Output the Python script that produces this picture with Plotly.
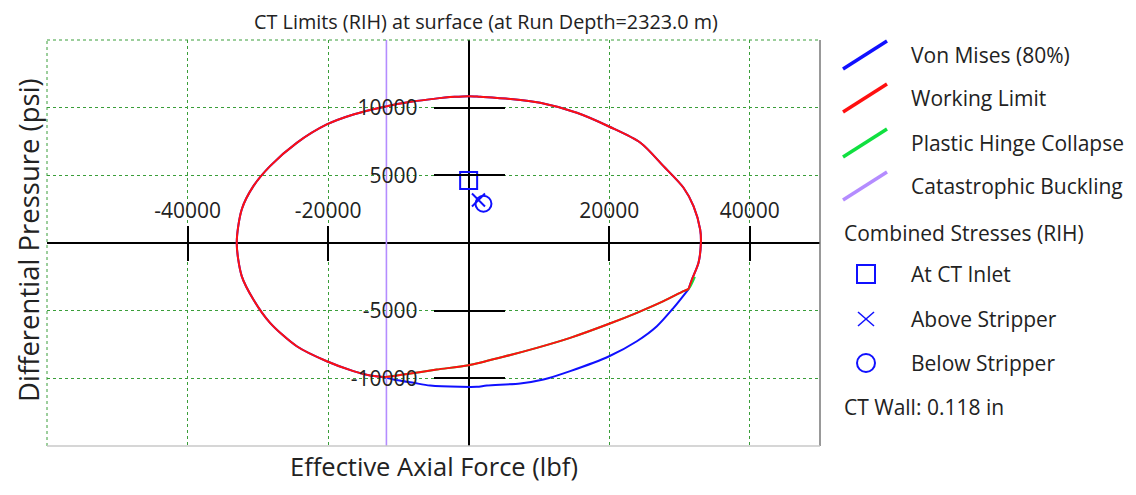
import plotly.graph_objects as go

# ---------------- data ----------------
# Shared Von Mises / Working-Limit arc: from lower-left join, up the left side,
# over the top and down the right side to the lower-right join (lbf, psi)
arc_x = [-12500, -14020, -16400, -20190, -24460, -28260, -30630, -32290, -33000, -32290, -30630, -28260,
         -24460, -20190, -16400, -11640, -8000, -5000, -2000, 0, 1640, 5910, 10180, 15400, 20040, 24450,
         27730, 30580, 32000, 32950, 33050, 32710, 31770, 31300]
arc_y = [-9880, -9790, -9470, -8740, -7630, -5900, -4180, -2450, 0, 2480, 4200, 5680,
         7400, 8760, 9500, 10110, 10450, 10650, 10800, 10850, 10800, 10640, 10360, 9620, 8590, 7410,
         5680, 4080, 2720, 1000, 0, -1460, -2700, -3400]

# Von Mises lower branch (from right join back to the left join)
vm_low_x = [31300, 29160, 26790, 23940, 20000, 14450, 10650, 7330, 2590, 1170, -1210, -5480, -7850,
            -10700, -12500]
vm_low_y = [-3400, -4790, -6150, -7260, -8370, -9470, -10090, -10380, -10530, -10630, -10630, -10530,
            -10330, -10080, -9880]

# Collapse line (Working limit lower branch)
wl_low_x = [31300, 30580, 27730, 23940, 20000, 14450, 9700, 4950, 0, -4530, -9280, -11640, -12500]
wl_low_y = [-3400, -3560, -4300, -5160, -5970, -7010, -7750, -8410, -9030, -9350, -9720, -9890, -9880]

# Plastic hinge collapse (mostly hidden under working limit)
phc_x = [32200, 31300, 30580, 27730, 23940, 20000, 14450, 9700, 4950, 0, -4530, -9280, -11640]
phc_y = [-2500, -3400, -3560, -4300, -5160, -5970, -7010, -7750, -8410, -9030, -9350, -9720, -9890]

buckling_force = -11700

# Combined stresses (RIH)
inlet_x, inlet_y = [0], [4620]
above_x, above_y = [1400], [3180]
below_x, below_y = [2110], [2900]

x_range = [-60000, 50000]
y_range = [-15000, 15000]
x_grid = [-60000, -40000, -20000, 20000, 40000]
y_grid = [-15000, -10000, -5000, 5000, 10000, 15000]
x_ticks = [-40000, -20000, 20000, 40000]
y_ticks = [-10000, -5000, 5000, 10000]

legend_lines = ["Von Mises (80%)", "Working Limit", "Plastic Hinge Collapse", "Catastrophic Buckling"]
legend_markers = ["At CT Inlet", "Above Stripper", "Below Stripper"]

# ---------------- styling ----------------
BLUE = "#1010ff"
RED = "#ff1010"
GREEN = "#10e040"
PURPLE = "#b48cff"
GRID = "#3a9e3a"
FONT = "Open Sans"
TXT = "#222222"
FS = 20
TICKFS = 21
LFS = 21

# page has an 8px body margin; work in page pixel coordinates and convert
OFF = 8
W, H = 1136 - OFF, 495 - OFF
PL, PR, PT, PB = 47, 820, 40, 446          # plot area in page pixels
L, T = PL - OFF, PT - OFF
R, B = W - (PR - OFF), H - (PB - OFF)
PW, PH = PR - PL, PB - PT

def pxx(p):
    return (p - PL) / PW

def pxy(p):
    return (PB - p) / PH

fig = go.Figure()

fig.add_trace(go.Scatter(x=arc_x + vm_low_x, y=arc_y + vm_low_y, mode="lines",
                         line=dict(color=BLUE, width=2, shape="spline", smoothing=0.8),
                         name=legend_lines[0], showlegend=False))
fig.add_trace(go.Scatter(x=phc_x, y=phc_y, mode="lines",
                         line=dict(color=GREEN, width=2, shape="spline", smoothing=0.8),
                         name=legend_lines[2], showlegend=False))
fig.add_trace(go.Scatter(x=[buckling_force, buckling_force], y=y_range, mode="lines",
                         line=dict(color=PURPLE, width=1.6), name=legend_lines[3], showlegend=False))
fig.add_trace(go.Scatter(x=arc_x, y=arc_y, mode="lines",
                         line=dict(color=RED, width=2, shape="spline", smoothing=0.8),
                         name=legend_lines[1], showlegend=False))
fig.add_trace(go.Scatter(x=wl_low_x, y=wl_low_y, mode="lines",
                         line=dict(color=RED, width=2, shape="spline", smoothing=0.8),
                         name=legend_lines[1], showlegend=False))

fig.add_trace(go.Scatter(x=inlet_x, y=inlet_y, mode="markers", name=legend_markers[0], showlegend=False,
                         marker=dict(symbol="square-open", size=17, color=BLUE, line=dict(width=2, color=BLUE))))
fig.add_trace(go.Scatter(x=above_x, y=above_y, mode="markers", name=legend_markers[1], showlegend=False,
                         marker=dict(symbol="x-thin-open", size=13, color=BLUE, line=dict(width=2, color=BLUE))))
fig.add_trace(go.Scatter(x=below_x, y=below_y, mode="markers", name=legend_markers[2], showlegend=False,
                         marker=dict(symbol="circle-open", size=16, color=BLUE, line=dict(width=2, color=BLUE))))

# dummy traces for tick-only overlay axes
for xa, ya in [("x2", "y2"), ("x3", "y3")]:
    fig.add_trace(go.Scatter(x=[None], y=[None], xaxis=xa, yaxis=ya, showlegend=False, hoverinfo="skip"))

ycross = (0 - y_range[0]) / (y_range[1] - y_range[0])
xcross = (0 - x_range[0]) / (x_range[1] - x_range[0])
tickfont = dict(family=FONT, size=TICKFS, color=TXT)

fig.update_layout(
    width=W, height=H,
    margin=dict(l=L, r=R, t=T, b=B, autoexpand=False),
    paper_bgcolor="white", plot_bgcolor="white",
    showlegend=False,
    font=dict(family=FONT, size=FS, color=TXT),
    title=dict(text="CT Limits (RIH) at surface (at Run Depth=2323.0 m)", x=pxx(486), xref="paper",
               xanchor="center", y=1 - (22 - OFF) / H, yanchor="middle",
               font=dict(family=FONT, size=19.8, color=TXT), automargin=False),
    xaxis=dict(range=x_range, tickvals=x_grid, showticklabels=False, ticks="", showgrid=True,
               gridcolor=GRID, griddash="dot", gridwidth=1, zeroline=True, zerolinecolor="black",
               zerolinewidth=2, showline=False, automargin=False),
    yaxis=dict(range=y_range, tickvals=y_grid, showticklabels=False, ticks="", showgrid=True,
               gridcolor=GRID, griddash="dot", gridwidth=1, zeroline=True, zerolinecolor="black",
               zerolinewidth=2, showline=False, automargin=False),
    xaxis2=dict(range=x_range, overlaying="x", anchor="free", position=ycross, side="top",
                tickvals=x_ticks, ticktext=[str(v) for v in x_ticks], ticks="outside", ticklen=17,
                tickwidth=2, tickcolor="black", showgrid=False, zeroline=False, showline=False,
                tickfont=tickfont, automargin=False),
    yaxis2=dict(range=y_range, overlaying="y", anchor="free", position=xcross, side="left",
                tickvals=y_ticks, ticktext=[str(v) for v in y_ticks], ticks="outside", ticklen=35,
                tickwidth=2, tickcolor="black", showgrid=False, zeroline=False, showline=False,
                tickfont=tickfont, ticklabelstandoff=12, automargin=False),
    xaxis3=dict(range=x_range, overlaying="x", anchor="free", position=ycross, side="bottom",
                tickvals=x_ticks, showticklabels=False, ticks="outside", ticklen=17,
                tickwidth=2, tickcolor="black", showgrid=False, zeroline=False, showline=False,
                automargin=False),
    yaxis3=dict(range=y_range, overlaying="y", anchor="free", position=xcross, side="right",
                tickvals=y_ticks, showticklabels=False, ticks="outside", ticklen=35,
                tickwidth=2, tickcolor="black", showgrid=False, zeroline=False, showline=False,
                automargin=False),
)

shapes = []
# plot borders
shapes.append(dict(type="line", xref="paper", yref="paper", x0=0, x1=0, y0=0, y1=1,
                   line=dict(color=GRID, width=1, dash="dot")))
shapes.append(dict(type="line", xref="paper", yref="paper", x0=0, x1=1, y0=1, y1=1,
                   line=dict(color=GRID, width=1, dash="dot")))
shapes.append(dict(type="line", xref="paper", yref="paper", x0=1, x1=1, y0=0, y1=1,
                   line=dict(color="#777777", width=1.5)))
shapes.append(dict(type="line", xref="paper", yref="paper", x0=0, x1=1, y0=0, y1=0,
                   line=dict(color="#c8c8c8", width=1.5)))

annotations = []
# axis titles
annotations.append(dict(text="Effective Axial Force (lbf)", xref="paper", yref="paper", x=pxx(433.5), y=pxy(466),
                        xanchor="center", yanchor="middle", showarrow=False,
                        font=dict(family=FONT, size=25.5, color=TXT)))
annotations.append(dict(text="Differential Pressure (psi)", xref="paper", yref="paper", x=pxx(29), y=pxy(240),
                        xanchor="center", yanchor="middle", textangle=-90, showarrow=False,
                        font=dict(family=FONT, size=27.5, color=TXT)))

# legend (custom)
line_cols = [BLUE, RED, GREEN, PURPLE]
line_ys = [55, 98, 143, 186]
for name, col, yc in zip(legend_lines, line_cols, line_ys):
    shapes.append(dict(type="line", xref="paper", yref="paper", x0=pxx(843), x1=pxx(887),
                       y0=pxy(yc + 14), y1=pxy(yc - 14), line=dict(color=col, width=3.5)))
    annotations.append(dict(text=name, xref="paper", yref="paper", x=pxx(909), y=pxy(yc),
                            xanchor="left", yanchor="middle", showarrow=False,
                            font=dict(family=FONT, size=LFS, color=TXT)))

annotations.append(dict(text="Combined Stresses (RIH)", xref="paper", yref="paper", x=pxx(842), y=pxy(233),
                        xanchor="left", yanchor="middle", showarrow=False, font=dict(family=FONT, size=LFS, color=TXT)))
mk_ys = [274, 319, 363]
for name, yc in zip(legend_markers, mk_ys):
    annotations.append(dict(text=name, xref="paper", yref="paper", x=pxx(909), y=pxy(yc),
                            xanchor="left", yanchor="middle", showarrow=False,
                            font=dict(family=FONT, size=LFS, color=TXT)))
# square
shapes.append(dict(type="rect", xref="paper", yref="paper", x0=pxx(857), x1=pxx(875), y0=pxy(283), y1=pxy(265),
                   line=dict(color=BLUE, width=2)))
# x
shapes.append(dict(type="line", xref="paper", yref="paper", x0=pxx(858), x1=pxx(874), y0=pxy(312), y1=pxy(326),
                   line=dict(color=BLUE, width=1.5)))
shapes.append(dict(type="line", xref="paper", yref="paper", x0=pxx(858), x1=pxx(874), y0=pxy(326), y1=pxy(312),
                   line=dict(color=BLUE, width=1.5)))
# circle
shapes.append(dict(type="circle", xref="paper", yref="paper", x0=pxx(857), x1=pxx(875), y0=pxy(372), y1=pxy(354),
                   line=dict(color=BLUE, width=2)))

annotations.append(dict(text="CT Wall: 0.118 in", xref="paper", yref="paper", x=pxx(842), y=pxy(407),
                        xanchor="left", yanchor="middle", showarrow=False, font=dict(family=FONT, size=LFS, color=TXT)))

fig.update_layout(shapes=shapes, annotations=annotations)

fig.write_html("out.html")
